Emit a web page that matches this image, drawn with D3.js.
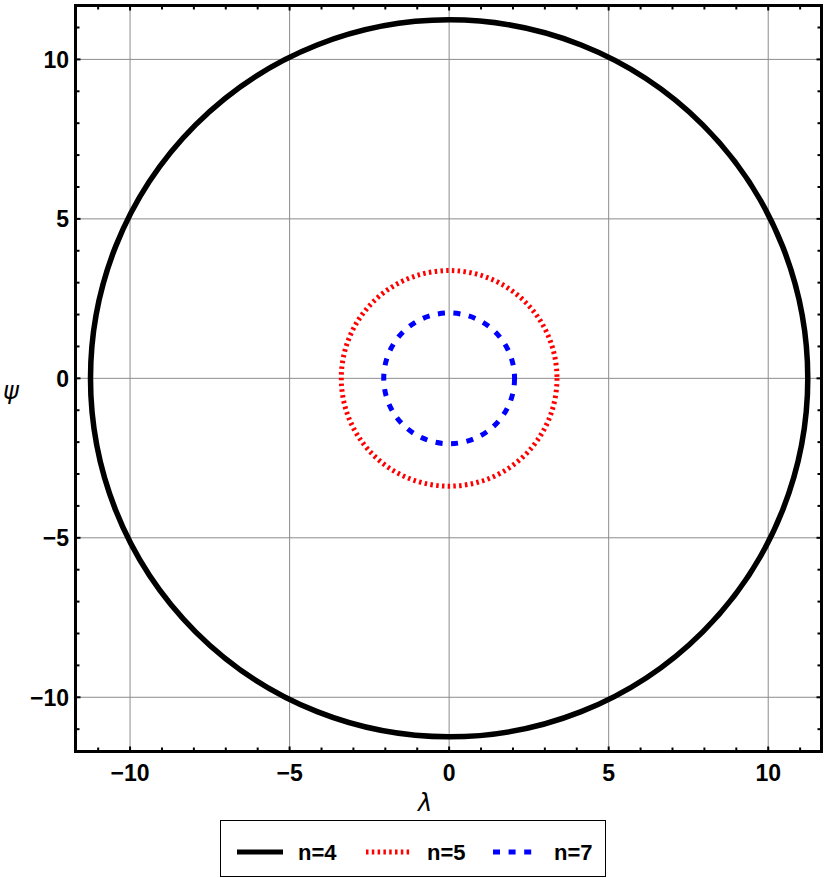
<!DOCTYPE html>
<html><head><meta charset="utf-8">
<script src="https://cdn.jsdelivr.net/npm/d3@7"></script>
<style>body{margin:0;background:#fff}</style>
</head><body>
<svg id="c" width="826" height="878"></svg>
<script>
const seriesNames = ["n=4", "n=5", "n=7"];
const radii = [11.24, 3.38, 2.05];
const colors = ["#000000", "#ff0000", "#0000ff"];
const dashes = [null, "2.5,3.3", "7,8.6"];
const majorTicks = [-10, -5, 0, 5, 10];
const minorTicks = d3.range(-11, 12);

const svg = d3.select("#c");
const font = "'Liberation Sans', Arial, sans-serif";
const x = d3.scaleLinear().domain([-11.71, 11.67]).range([75.5, 821.5]);
const y = d3.scaleLinear().domain([-11.70, 11.69]).range([751.5, 5.5]);

// grid
const g = svg.append("g");
g.selectAll(".gx").data(majorTicks).join("line")
  .attr("x1", d => x(d)).attr("x2", d => x(d)).attr("y1", y.range()[0]).attr("y2", y.range()[1])
  .attr("stroke", "#8c8c8c").attr("stroke-width", 1);
g.selectAll(".gy").data(majorTicks).join("line")
  .attr("y1", d => y(d)).attr("y2", d => y(d)).attr("x1", x.range()[0]).attr("x2", x.range()[1])
  .attr("stroke", "#8c8c8c").attr("stroke-width", 1);

// circles
const cx = x(0), cy = y(0);
svg.append("g").selectAll("ellipse").data(radii).join("ellipse")
  .attr("cx", cx).attr("cy", cy)
  .attr("rx", d => x(d) - x(0)).attr("ry", d => y(0) - y(d))
  .attr("fill", "none")
  .attr("stroke", (d, i) => colors[i])
  .attr("stroke-width", (d, i) => i === 0 ? 5.5 : 5)
  .attr("stroke-dasharray", (d, i) => dashes[i]);

// axes ticks (inside, on all four sides)
const fmt = d => d < 0 ? "\u2212" + Math.abs(d) : String(d);
function tickLen(d) { return d % 5 === 0 ? 5 : 4; }
const tk = svg.append("g").attr("stroke", "#000").attr("stroke-width", 2);
minorTicks.forEach(d => {
  const L = tickLen(d);
  tk.append("line").attr("x1", x(d)).attr("x2", x(d)).attr("y1", y.range()[0]).attr("y2", y.range()[0] - L);
  tk.append("line").attr("x1", x(d)).attr("x2", x(d)).attr("y1", y.range()[1]).attr("y2", y.range()[1] + L);
  tk.append("line").attr("y1", y(d)).attr("y2", y(d)).attr("x1", x.range()[0]).attr("x2", x.range()[0] + L);
  tk.append("line").attr("y1", y(d)).attr("y2", y(d)).attr("x1", x.range()[1]).attr("x2", x.range()[1] - L);
});

// frame
svg.append("rect")
  .attr("x", x.range()[0]).attr("y", y.range()[1])
  .attr("width", x.range()[1] - x.range()[0]).attr("height", y.range()[0] - y.range()[1])
  .attr("fill", "none").attr("stroke", "#000").attr("stroke-width", 3);

// tick labels
svg.append("g").selectAll("text").data(majorTicks).join("text")
  .attr("x", d => x(d)).attr("y", 781)
  .attr("text-anchor", "middle").attr("font-family", font).attr("font-weight", "bold").attr("font-size", 23)
  .text(fmt);
svg.append("g").selectAll("text").data(majorTicks).join("text")
  .attr("x", 69).attr("y", d => y(d) + 8.5)
  .attr("text-anchor", "end").attr("font-family", font).attr("font-weight", "bold").attr("font-size", 23)
  .text(fmt);

// axis labels
svg.append("text").attr("x", 425).attr("y", 811).attr("text-anchor", "middle")
  .attr("font-family", "'DejaVu Sans', sans-serif").attr("font-style", "italic").attr("font-size", 24).text("\u03bb");
svg.append("text").attr("x", 11).attr("y", 399).attr("text-anchor", "middle")
  .attr("font-family", "'DejaVu Sans', sans-serif").attr("font-style", "italic").attr("font-size", 24).text("\u03c8");

// legend
const lg = svg.append("g");
lg.append("rect").attr("x", 220.5).attr("y", 820.5).attr("width", 385).attr("height", 56)
  .attr("fill", "#fff").attr("stroke", "#000").attr("stroke-width", 1);
const legX = [237, 366, 493];
seriesNames.forEach((name, i) => {
  lg.append("line").attr("x1", legX[i]).attr("x2", legX[i] + (i === 2 ? 42 : 46))
    .attr("y1", 852).attr("y2", 852)
    .attr("stroke", colors[i]).attr("stroke-width", 5).attr("stroke-dasharray", dashes[i]);
  lg.append("text").attr("x", legX[i] + 61).attr("y", 859.5)
    .attr("font-family", font).attr("font-weight", "bold").attr("font-size", 22).text(name);
});
</script>
</body></html>
